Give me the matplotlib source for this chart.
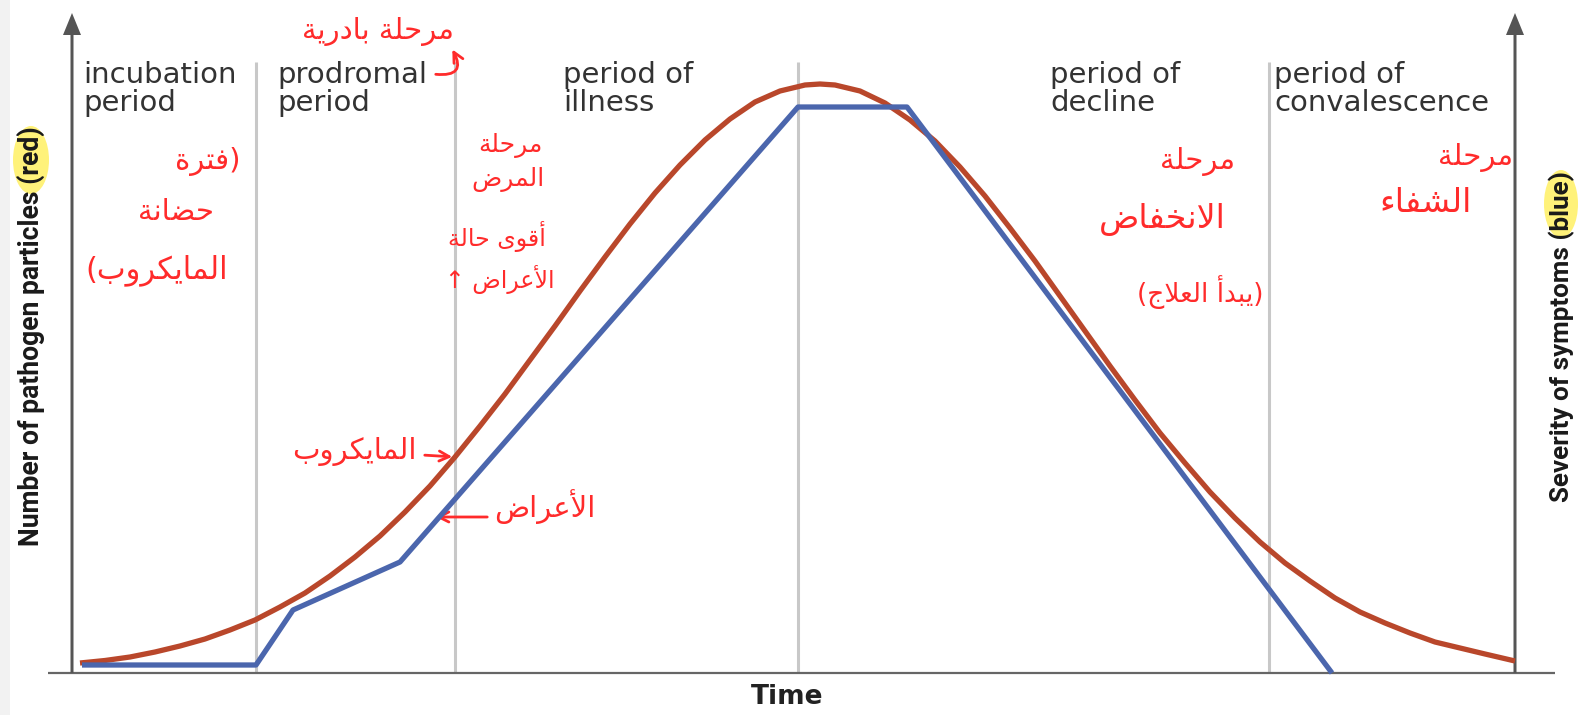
import matplotlib.pyplot as plt
from matplotlib import font_manager
from matplotlib.patches import Ellipse, Rectangle

# phases along the time axis
phase_labels = ['incubation\nperiod', 'prodromal\nperiod', 'period of\nillness',
                'period of\ndecline', 'period of\nconvalescence']
phase_label_t = [83, 277, 563, 1050, 1274]
phase_bounds = [256, 455, 798, 1269]

# number of pathogen particles (red)
pathogen_t = [80, 105, 130, 155, 180, 205, 230, 255, 280, 305, 330, 355, 380, 405, 430, 455,
              480, 505, 530, 555, 580, 605, 630, 655, 680, 705, 730, 755, 780, 805, 820,
              835, 860, 885, 910, 935, 960, 985, 1010, 1035, 1060, 1085, 1110, 1135, 1160,
              1185, 1210, 1235, 1260, 1285, 1310, 1335, 1360, 1385, 1410, 1435, 1460, 1485, 1515]
pathogen_n = [10, 12.5, 16, 21, 27, 34, 43, 53, 66, 80, 97, 116, 137, 161, 187, 216,
              247, 279, 313, 347, 382, 416, 449, 480, 508, 533, 554, 571, 582, 588, 589,
              588, 582, 570, 553, 532, 506, 477, 445, 412, 377, 342, 307, 273, 240,
              210, 181, 155, 131, 110, 92, 75, 61, 50, 40, 31, 25, 19, 12]

# severity of symptoms (blue)
symptom_t = [82, 256, 293, 400, 798, 907, 1332]
symptom_s = [8, 8, 63, 111, 566, 566, 0]

# handwritten arabic notes: text, left/right extras, x, y, size
notes = [
    ('مرحلة بادرية', '', '', 378, 641, 21),
    ('فترة', '', ')', 208, 511, 21),
    ('حضانة', '', '', 176, 461, 21),
    ('المايكروب', '(', '', 157, 403, 22),
    ('مرحلة', '', '', 510, 528, 18),
    ('المرض', '', '', 508, 494, 18),
    ('أقوى حالة', '', '', 497, 437, 17),
    ('الأعراض', '↑ ', '', 500, 393, 17),
    ('المايكروب', '', '', 354, 221, 21),
    ('الأعراض', '', '', 545, 166, 21),
    ('مرحلة', '', '', 1198, 511, 21),
    ('الانخفاض', '', '', 1162, 454, 24),
    ('يبدأ العلاج', '(', ')', 1200, 381, 19),
    ('مرحلة', '', '', 1476, 515, 21),
    ('الشفاء', '', '', 1425, 471, 24),
]

# minimal arabic shaping (matplotlib has no complex text layout)
# letter -> (isolated presentation form, 0 none / 1 right-joining / 2 dual-joining)
AR = {'ء': (0xFE80, 0), 'أ': (0xFE83, 1), 'ا': (0xFE8D, 1), 'ب': (0xFE8F, 2), 'ة': (0xFE93, 1),
      'ت': (0xFE95, 2), 'ج': (0xFE9D, 2), 'ح': (0xFEA1, 2), 'خ': (0xFEA5, 2), 'د': (0xFEA9, 1),
      'ر': (0xFEAD, 1), 'ش': (0xFEB5, 2), 'ض': (0xFEBD, 2), 'ع': (0xFEC9, 2), 'ف': (0xFED1, 2),
      'ق': (0xFED5, 2), 'ك': (0xFED9, 2), 'ل': (0xFEDD, 2), 'م': (0xFEE1, 2), 'ن': (0xFEE5, 2),
      'و': (0xFEED, 1), 'ى': (0xFEEF, 1), 'ي': (0xFEF1, 2), '\ufef7': (0xFEF7, 1), '\ufefb': (0xFEFB, 1)}


def shape(s):
    s = s.replace('لأ', '\ufef7').replace('لا', '\ufefb')
    out = []
    for i, ch in enumerate(s):
        if ch not in AR:
            out.append(ch)
            continue
        base, kind = AR[ch]
        prev = s[i - 1] if i > 0 else ''
        nxt = s[i + 1] if i + 1 < len(s) else ''
        jp = kind > 0 and prev in AR and AR[prev][1] == 2
        jn = kind == 2 and nxt in AR and AR[nxt][1] > 0
        out.append(chr(base + (3 if jp and jn else 2 if jn else 1 if jp else 0)))
    return ''.join(reversed(out))


installed = {f.name for f in font_manager.fontManager.ttflist}
narrow = 'Liberation Sans Narrow' if 'Liberation Sans Narrow' in installed else 'Roboto'

red = '#b9472b'
blue = '#4b66ad'
note_red = '#ff2b2b'

fig = plt.figure(figsize=(15.82, 7.15), dpi=100)
ax = fig.add_axes([0, 0, 1, 1])
ax.set_xlim(0, 1582)
ax.set_ylim(-42, 673)
ax.axis('off')

ax.add_patch(Rectangle((0, -42), 10, 715, color='#f2f2f2', lw=0))

ax.vlines(phase_bounds, 0, 611, color='#c8c8c8', lw=2.2, zorder=1)
ax.hlines(0, 48, 1555, color='#666666', lw=1.6, zorder=2)
for x in (72, 1515):
    ax.arrow(x, 0, 0, 660, width=3, head_width=18, head_length=22,
             length_includes_head=True, fc='#555555', ec='none', zorder=2)

ax.plot(pathogen_t, pathogen_n, color=red, lw=3.8, zorder=3, solid_capstyle='butt')
ax.plot(symptom_t, symptom_s, color=blue, lw=3.8, zorder=4, solid_capstyle='butt')

for lab, t in zip(phase_labels, phase_label_t):
    ax.text(t, 612, lab, ha='left', va='top', fontsize=21, color='#333333',
            family='DejaVu Sans', linespacing=1.0)

ax.text(787, -24, 'Time', ha='center', va='center', fontsize=19, fontweight='bold',
        color='#222222', family='DejaVu Sans')

# axis labels, top end anchored
ax.add_patch(Ellipse((31, 513), 36, 68, color='#fff27a', lw=0, zorder=1))
ax.add_patch(Ellipse((1561, 469), 34, 68, color='#fff27a', lw=0, zorder=1))
ylab_l = ax.text(31, 547, 'Number of pathogen particles (red)', rotation=90, rotation_mode='anchor',
                 ha='right', va='center', fontsize=22, fontweight='bold', color='#1a1a1a',
                 family=narrow, zorder=5)
ylab_r = ax.text(1562, 502, 'Severity of symptoms (blue)', rotation=90, rotation_mode='anchor',
                 ha='right', va='center', fontsize=22, fontweight='bold', color='#1a1a1a',
                 family=narrow, zorder=5)
fig.canvas.draw()
for t, length in ((ylab_l, 420), (ylab_r, 330)):
    h = t.get_window_extent().height
    t.set_fontsize(t.get_fontsize() * length / h)

for txt, left, right, x, y, size in notes:
    ax.text(x, y, left + shape(txt) + right, ha='center', va='center', fontsize=size,
            color=note_red, family='DejaVu Sans', zorder=6)

arrow = dict(arrowstyle='->', color=note_red, lw=2, mutation_scale=18)
ax.annotate('', xy=(451, 626), xytext=(433, 599),
            arrowprops=dict(arrow, connectionstyle='arc3,rad=1.0'))
ax.annotate('', xy=(455, 216), xytext=(422, 218), arrowprops=arrow)
ax.annotate('', xy=(433, 156), xytext=(490, 156), arrowprops=arrow)

fig.savefig('out.png', dpi=100)
